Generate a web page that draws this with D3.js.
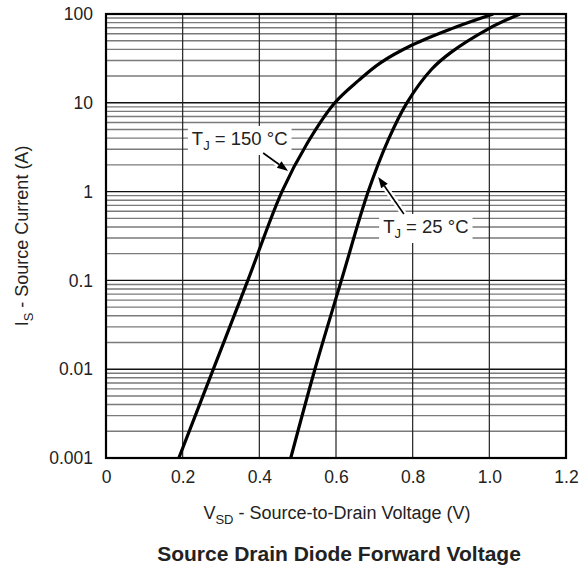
<!DOCTYPE html>
<html><head><meta charset="utf-8">
<script src="https://cdn.jsdelivr.net/npm/d3@7/dist/d3.min.js"></script>
<style>body{margin:0;background:#fff}svg{display:block}text{font-family:"Liberation Sans",Arial,Helvetica,sans-serif;fill:#222}</style>
</head><body>
<script>
// Data
const xTicks = [0, 0.2, 0.4, 0.6, 0.8, 1.0, 1.2];
const xTickLabels = ["0", "0.2", "0.4", "0.6", "0.8", "1.0", "1.2"];
const yTicks = [0.001, 0.01, 0.1, 1, 10, 100];
const yTickLabels = ["0.001", "0.01", "0.1", "1", "10", "100"];
const vsd150 = [0.19, 0.28, 0.37, 0.459, 0.525, 0.597, 0.66, 0.715, 0.80, 0.90, 1.01];
const is150  = [0.001, 0.01, 0.1, 1, 3.5, 10, 18, 28, 45, 68, 100];
const vsd25  = [0.482, 0.545, 0.614, 0.684, 0.736, 0.785, 0.85, 0.90, 1.00, 1.08];
const is25   = [0.001, 0.01, 0.1, 1, 3.8, 10, 24, 37, 69, 100];

const W = 588, H = 568;
const m = {l:106, r:22, t:14, b:110};
const svg = d3.select("body").append("svg").attr("width", W).attr("height", H);
const x = d3.scaleLinear().domain([0, 1.2]).range([m.l, W - m.r]);
const y = d3.scaleLog().domain([0.001, 100]).range([H - m.b, m.t]);

// minor horizontal grid
const minor = [];
yTicks.slice(0, -1).forEach(d => { for (let k = 2; k <= 9; k++) minor.push(d * k); });
svg.append("g").selectAll("line").data(minor).join("line")
  .attr("x1", x(0)).attr("x2", x(1.2))
  .attr("y1", d => y(d)).attr("y2", d => y(d))
  .attr("stroke", "#7a7a7a").attr("stroke-width", 1.4);
// major horizontal grid
svg.append("g").selectAll("line").data(yTicks).join("line")
  .attr("x1", x(0)).attr("x2", x(1.2))
  .attr("y1", d => y(d)).attr("y2", d => y(d))
  .attr("stroke", "#111").attr("stroke-width", 1.4);
// vertical grid
svg.append("g").selectAll("line").data(xTicks).join("line")
  .attr("x1", d => x(d)).attr("x2", d => x(d))
  .attr("y1", y(0.001)).attr("y2", y(100))
  .attr("stroke", "#222").attr("stroke-width", 1.2);

// curves
const line = d3.line().x(d => x(d[0])).y(d => y(d[1])).curve(d3.curveCatmullRom.alpha(0.5));
const c150 = vsd150.map((v, i) => [v, is150[i]]);
const c25 = vsd25.map((v, i) => [v, is25[i]]);
svg.append("defs").append("clipPath").attr("id", "clip").append("rect")
  .attr("x", x(0)).attr("y", y(100)).attr("width", x(1.2) - x(0)).attr("height", y(0.001) - y(100));
const cg = svg.append("g").attr("clip-path", "url(#clip)");
[c150, c25].forEach(c => cg.append("path").attr("d", line(c))
  .attr("fill", "none").attr("stroke", "#000").attr("stroke-width", 3.2));

// frame
svg.append("rect").attr("x", x(0)).attr("y", y(100))
  .attr("width", x(1.2) - x(0)).attr("height", y(0.001) - y(100))
  .attr("fill", "none").attr("stroke", "#000").attr("stroke-width", 2.2);

// axes labels
const xAxis = d3.axisBottom(x).tickValues(xTicks).tickFormat((d, i) => xTickLabels[i]).tickSize(0).tickPadding(13);
const gx = svg.append("g").attr("transform", `translate(0,${y(0.001)})`).call(xAxis);
gx.select(".domain").remove();
gx.selectAll("text").style("font-size", "17.5px").attr("fill", "#222");
const yAxis = d3.axisLeft(y).tickValues(yTicks).tickFormat((d, i) => yTickLabels[i]).tickSize(0).tickPadding(13);
const gy = svg.append("g").attr("transform", `translate(${x(0)},0)`).call(yAxis);
gy.select(".domain").remove();
gy.selectAll("text").style("font-size", "17.5px").attr("fill", "#222");

// axis titles
const xt = svg.append("text").attr("x", 337).attr("y", 519).attr("text-anchor", "middle").style("font-size", "18px");
xt.append("tspan").text("V");
xt.append("tspan").text("SD").attr("dy", 5).style("font-size", "13px");
xt.append("tspan").text(" - Source-to-Drain Voltage (V)").attr("dy", -5);
const yt = svg.append("text").attr("transform", `translate(28,${(y(0.001) + y(100)) / 2}) rotate(-90)`)
  .attr("text-anchor", "middle").style("font-size", "18px");
yt.append("tspan").text("I");
yt.append("tspan").text("S").attr("dy", 5).style("font-size", "13px");
yt.append("tspan").text(" - Source Current (A)").attr("dy", -5);

svg.append("text").attr("x", 339).attr("y", 561).attr("text-anchor", "middle")
  .style("font-size", "21px").style("font-weight", "bold").attr("fill", "#111")
  .text("Source Drain Diode Forward Voltage");

// annotations
function annot(tx, ty, label, ax1, ay1, ax2, ay2) {
  const g = svg.append("g");
  const t = g.append("text").attr("x", x(tx)).attr("y", y(ty)).style("font-size", "18.5px");
  t.append("tspan").text("T");
  t.append("tspan").text("J").attr("dy", 5).style("font-size", "13px");
  t.append("tspan").text(" = " + label).attr("dy", -5);
  const bb = t.node().getBBox();
  g.insert("rect", "text").attr("x", bb.x - 4).attr("y", bb.y - 2).attr("width", bb.width + 8).attr("height", bb.height + 4).attr("fill", "#fff");
  const X1 = x(ax1), Y1 = y(ay1), X2 = x(ax2), Y2 = y(ay2);
  const ang = Math.atan2(Y2 - Y1, X2 - X1), L = 11, wdt = 4;
  const bx = X2 - L * Math.cos(ang), by = Y2 - L * Math.sin(ang);
  g.append("line").attr("x1", X1).attr("y1", Y1).attr("x2", bx).attr("y2", by)
    .attr("stroke", "#fff").attr("stroke-width", 6);
  g.append("line").attr("x1", X1).attr("y1", Y1).attr("x2", bx).attr("y2", by)
    .attr("stroke", "#000").attr("stroke-width", 1.6);
  g.append("path").attr("d", `M${X2},${Y2}L${bx + wdt * Math.sin(ang)},${by - wdt * Math.cos(ang)}L${bx - wdt * Math.sin(ang)},${by + wdt * Math.cos(ang)}Z`)
    .attr("fill", "#000");
}
annot(0.224, 3.35, "150 °C", 0.41, 2.72, 0.475, 1.71);
annot(0.723, 0.342, "25 °C", 0.777, 0.56, 0.71, 1.46);
</script>
</body></html>
